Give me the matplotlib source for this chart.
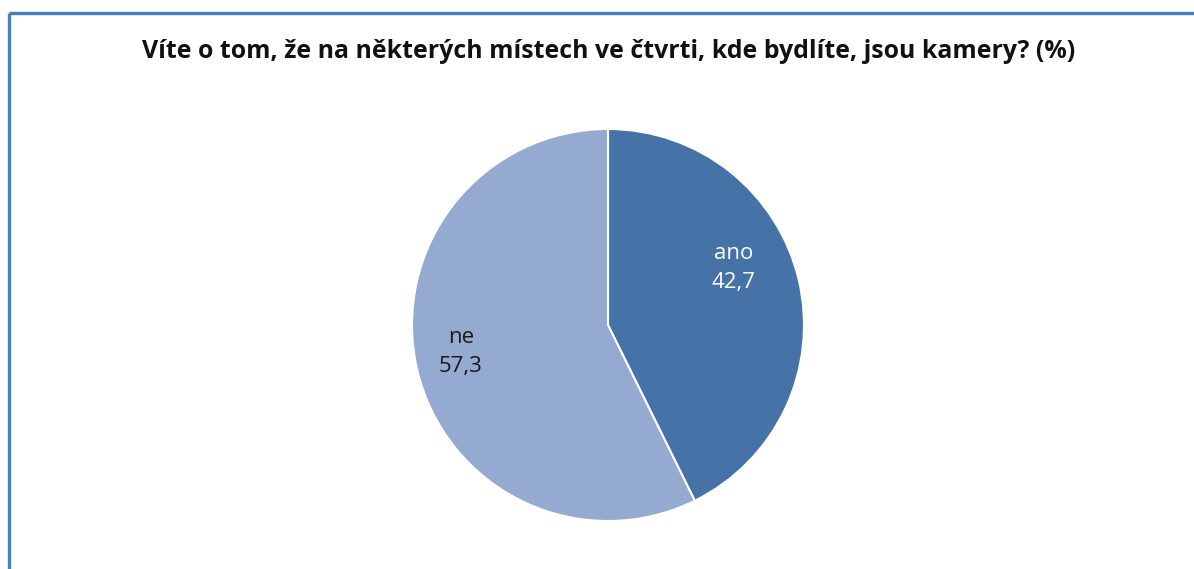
import matplotlib
matplotlib.use("Agg")
import matplotlib.pyplot as plt
from matplotlib.lines import Line2D

title = "Víte o tom, že na některých místech ve čtvrti, kde bydlíte, jsou kamery? (%)"
categories = ["ano", "ne"]
values = [42.7, 57.3]
colors = ["#4673A7", "#95AAD0"]
label_colors = ["white", "#1a1a1a"]
label_pos = [(0.64, 0.29), (-0.75, -0.14)]

W, H = 1194, 569
fig = plt.figure(figsize=(W / 100, H / 100), dpi=100)
fig.patch.set_facecolor("white")

# border (top and left)
fig.add_artist(Line2D([8.5 / W, 1.0], [1 - 13 / H, 1 - 13 / H], transform=fig.transFigure,
                      color="#4A7EBB", lw=2.4, solid_capstyle="butt"))
fig.add_artist(Line2D([8.5 / W, 8.5 / W], [0, 1 - 13 / H], transform=fig.transFigure,
                      color="#4A7EBB", lw=2.4, solid_capstyle="butt"))

fig.text(609 / W, 1 - 51 / H, title, ha="center", va="center", fontsize=17.9,
         fontweight="bold", family=["Open Sans", "DejaVu Sans"], color="#111111")

cx, cy, r = 608, 325, 196
ax = fig.add_axes([(cx - r) / W, (H - cy - r) / H, 2 * r / W, 2 * r / H])
ax.pie(values, colors=colors, startangle=90, counterclock=False, radius=1,
       wedgeprops=dict(edgecolor="white", linewidth=1.5))
ax.set_xlim(-1.0, 1.0)
ax.set_ylim(-1.0, 1.0)
ax.set_aspect("equal")
ax.axis("off")

for cat, v, (x, y), c in zip(categories, values, label_pos, label_colors):
    ax.text(x, y, f"{cat}\n{str(v).replace('.', ',')}", ha="center", va="center",
            fontsize=16, color=c, family=["Open Sans", "DejaVu Sans"], linespacing=1.5)

fig.savefig("out.png", dpi=100, facecolor="white")
